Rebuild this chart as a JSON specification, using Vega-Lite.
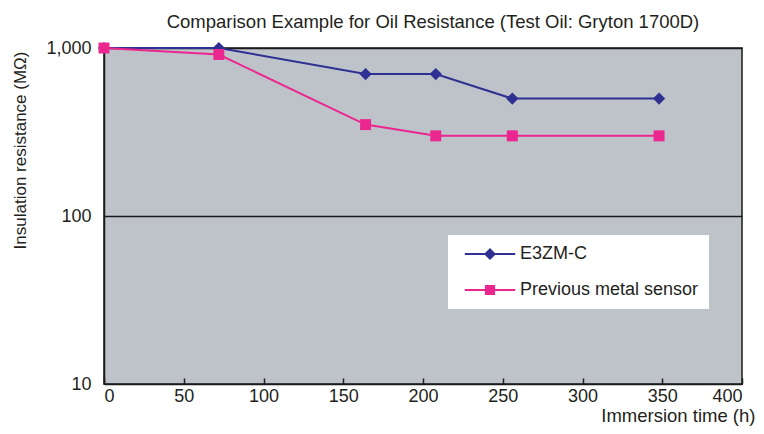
{
  "$schema": "https://vega.github.io/schema/vega-lite/v6.json",
  "autosize": "none",
  "width": 638,
  "height": 336,
  "padding": {"left": 104, "top": 48, "right": 22, "bottom": 50},
  "background": "white",
  "title": {
    "text": "Comparison Example for Oil Resistance (Test Oil: Gryton 1700D)",
    "font": "Liberation Sans",
    "fontSize": 18.5,
    "fontWeight": "normal",
    "color": "#231F20",
    "anchor": "middle",
    "dx": 10,
    "offset": 8
  },
  "config": {
    "view": {"fill": "#BEC2C9", "stroke": "#1a1a1a", "strokeWidth": 1.5},
    "font": "Liberation Sans"
  },
  "data": {
    "values": [
      {"series": "E3ZM-C", "time": 0, "resistance": 1000},
      {"series": "E3ZM-C", "time": 72, "resistance": 1000},
      {"series": "E3ZM-C", "time": 164, "resistance": 700},
      {"series": "E3ZM-C", "time": 208, "resistance": 700},
      {"series": "E3ZM-C", "time": 256, "resistance": 500},
      {"series": "E3ZM-C", "time": 348, "resistance": 500},
      {"series": "Previous metal sensor", "time": 0, "resistance": 1000},
      {"series": "Previous metal sensor", "time": 72, "resistance": 915},
      {"series": "Previous metal sensor", "time": 164, "resistance": 350},
      {"series": "Previous metal sensor", "time": 208, "resistance": 300},
      {"series": "Previous metal sensor", "time": 256, "resistance": 300},
      {"series": "Previous metal sensor", "time": 348, "resistance": 300}
    ]
  },
  "encoding": {
    "x": {
      "field": "time",
      "type": "quantitative",
      "scale": {"domain": [0, 400], "nice": false},
      "axis": {
        "values": [0, 50, 100, 150, 200, 250, 300, 350, 400],
        "offset": -6,
        "title": "Immersion time (h)",
        "titleFont": "Liberation Sans",
        "titleFontSize": 18.5,
        "titleFontWeight": "normal",
        "titleColor": "#231F20",
        "titleAnchor": null,
        "titleAlign": "right",
        "titleX": 651,
        "titleY": 43,
        "titleBaseline": "alphabetic",
        "labelFontSize": 18,
        "labelColor": "#231F20",
        "labelPadding": 3,
        "tickSize": 6,
        "tickColor": "#1a1a1a",
        "tickWidth": 1.5,
        "domain": false,
        "grid": false
      }
    },
    "y": {
      "field": "resistance",
      "type": "quantitative",
      "scale": {"type": "log", "domain": [10, 1000], "nice": false},
      "axis": {
        "values": [10, 100, 1000],
        "format": ",",
        "title": "Insulation resistance (MΩ)",
        "titleFont": "Liberation Sans",
        "titleFontSize": 17,
        "titleFontWeight": "normal",
        "titleColor": "#231F20",
        "titleAnchor": null,
        "titleX": -84,
        "titleY": 102,
        "titleAlign": "center",
        "titleBaseline": "middle",
        "titleAngle": -90,
        "labelFontSize": 18,
        "labelColor": "#231F20",
        "labelPadding": 13,
        "ticks": false,
        "domainColor": "#1a1a1a",
        "domainWidth": 1.5,
        "grid": true,
        "gridColor": "#1a1a1a",
        "gridWidth": 1.3,
        "gridOpacity": 1
      }
    },
    "color": {
      "field": "series",
      "type": "nominal",
      "scale": {"domain": ["E3ZM-C", "Previous metal sensor"], "range": ["#2E3192", "#EC268F"]},
      "legend": {
        "title": null,
        "orient": "none",
        "legendX": 344,
        "legendY": 187,
        "fillColor": "white",
        "padding": 10,
        "symbolSize": 144,
        "symbolOffset": 23,
        "labelOffset": 21,
        "labelFontSize": 18,
        "labelLimit": 400,
        "labelColor": "#231F20",
        "rowPadding": 18,
        "symbolStrokeWidth": 0,
        "encode": {
          "symbols": {
            "update": {
              "shape": {"signal": "datum.value === 'E3ZM-C' ? 'M-4.2,-0.17L4.2,-0.17L4.2,0.17L-4.2,0.17Z M0,-1L1,0L0,1L-1,0Z' : 'M-4.2,-0.17L4.2,-0.17L4.2,0.17L-4.2,0.17Z M-0.85,-0.85L0.85,-0.85L0.85,0.85L-0.85,0.85Z'"},
              "fill": {"scale": "color", "field": "value"},
              "fillOpacity": {"value": 1},
              "strokeWidth": {"value": 0}
            }
          }
        }
      }
    }
  },
  "layer": [
    {
      "transform": [{"filter": "datum.series === 'E3ZM-C'"}],
      "layer": [
        {"mark": {"type": "line", "strokeWidth": 2}},
        {"mark": {"type": "point", "shape": "diamond", "filled": true, "size": 150, "opacity": 1}}
      ]
    },
    {
      "transform": [{"filter": "datum.series === 'Previous metal sensor'"}],
      "layer": [
        {"mark": {"type": "line", "strokeWidth": 2}},
        {"mark": {"type": "point", "shape": "square", "filled": true, "size": 120, "opacity": 1}}
      ]
    }
  ]
}
